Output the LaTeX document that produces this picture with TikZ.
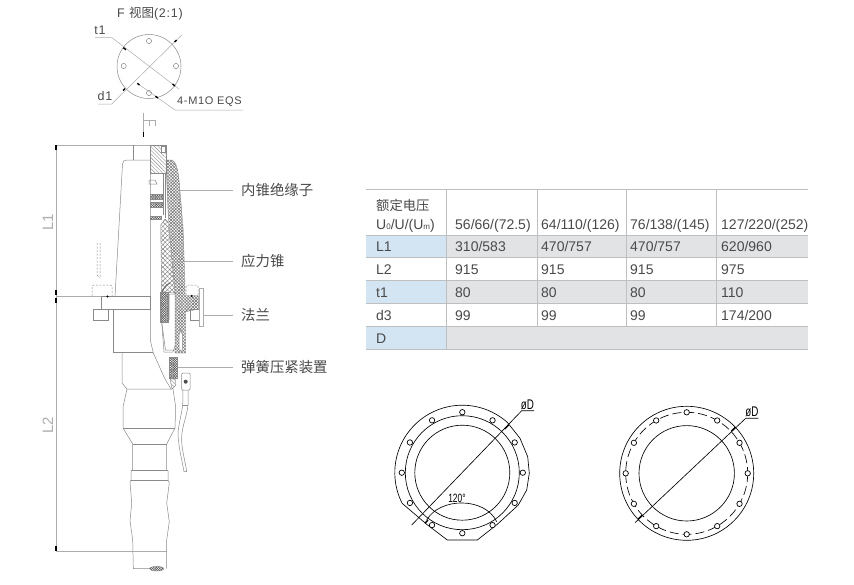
\documentclass[tikz,border=0pt]{standalone}
\usepackage{fontspec}
\usepackage{graphicx}
\setmainfont{Liberation Sans}
\newfontfamily\cjk{Noto Sans CJK SC}
\newfontfamily\spaced[LetterSpace=6]{Liberation Sans}
\usetikzlibrary{patterns,patterns.meta,arrows.meta}
\definecolor{txt}{HTML}{4A4A4A}
\definecolor{ln}{HTML}{8A8A8A}
\definecolor{blu}{HTML}{D3E4F3}
\definecolor{gry}{HTML}{E2E3E5}
\definecolor{rule}{HTML}{BDBFC1}
\tikzset{
  thin line/.style={draw=ln,line width=.5pt},
  leader/.style={draw=ln!70,line width=.5pt},
  dark line/.style={draw=black,line width=.65pt},
  hole/.style={draw=black,line width=.7pt,fill=white},
  mini hole/.style={draw=ln,line width=.5pt,fill=white},
  tick/.style={draw=black,line width=1.4pt},
  cross/.style={draw=ln,line width=.4pt,
    preaction={pattern={Lines[angle=45,distance=2.2pt,line width=.55pt]},pattern color=black!55},
    preaction={pattern={Lines[angle=-45,distance=2.2pt,line width=.55pt]},pattern color=black!55}},
  coarse/.style={draw=ln,line width=.4pt,
    preaction={fill=white},
    preaction={pattern={Lines[angle=45,distance=3.2pt,line width=.45pt]},pattern color=black!50},
    preaction={pattern={Lines[angle=-45,distance=3.2pt,line width=.45pt]},pattern color=black!50}},
  slant/.style={draw=ln,line width=.4pt,pattern={Lines[angle=-45,distance=2.6pt,line width=.4pt]},pattern color=black!45},
  dense/.style={draw=ln,line width=.4pt,
    preaction={fill=white},
    preaction={pattern={Lines[angle=45,distance=1.7pt,line width=.55pt]},pattern color=black!65},
    preaction={pattern={Lines[angle=-45,distance=1.7pt,line width=.55pt]},pattern color=black!65}},
  label/.style={font=\fontsize{14.4}{14.4}\selectfont\cjk,text=txt,anchor=west,inner sep=0pt},
  annot/.style={font=\fontsize{12.5}{12.5}\selectfont\spaced,text=txt,inner sep=0pt},
  cell/.style={font=\fontsize{14}{14}\selectfont,text=txt,anchor=base west,inner sep=0pt},
  rulev/.style={draw=rule,line width=1pt},
  fill blue/.style={fill=blu,draw=none},
  fill gray/.style={fill=gry,draw=none},
  dim/.style={font=\fontsize{15}{15}\selectfont,text=ln!70,inner sep=0pt,rotate=90},
}
\begin{document}
\begin{tikzpicture}[x=1pt,y=-1pt]
\useasboundingbox (0,0) rectangle (854,584);
\fill[white] (0,0) rectangle (854,584);
% ---------- F view
\node[annot,anchor=west] (ftitle) at (117,14) {F {\cjk 视图}(2:1)};
\coordinate (fc) at (149,66.5);
\draw[thin line] (fc) circle[radius=32];
\foreach \p in {(149,41),(123.7,66),(176,66),(149,93)} \draw[mini hole] \p circle[radius=2.6];
\node[annot] (t1lab) at (100,30) {t1};
\node[annot] (d1lab) at (105,96) {d1};
\node[annot,anchor=west,font=\fontsize{11}{11}\selectfont\spaced] (mlab) at (177,102) {4-M1O EQS};
\coordinate (t1a) at (95,37.5); \coordinate (t1b) at (111.7,37.5); \coordinate (t1c) at (179,89);
\coordinate (d1a) at (98,104); \coordinate (d1b) at (111.7,104); \coordinate (d1c) at (181.7,35);
\coordinate (ma) at (137.3,83.3); \coordinate (mb) at (175,110); \coordinate (mc) at (243,110);
\draw[leader] (t1a) -- (t1b) -- (t1c);
\draw[leader] (d1a) -- (d1b) -- (d1c);
\draw[leader] (ma) -- (mb) -- (mc);
\draw[tick] (123.3,47.7) -- (126,49.7);
\draw[tick] (172.5,84) -- (175,86);
\draw[tick] (123,90.7) -- (125,88.7);
\draw[tick] (176.7,40) -- (174.7,42);
\draw[tick] (155.5,96.2) -- (158,98);
\draw[tick] (137.3,83.3) -- (139.5,85);
% F mark
\coordinate (fa) at (143.5,113); \coordinate (fb) at (143.5,137);
\draw[leader] (fa) -- (fb);
\draw[tick,line width=1pt] (143.5,132) -- (143.5,137);
\draw[leader] (143.5,120) -- (155,120) (149,120) -- (149,126) (155,120) -- (155,126);
% ---------- dimensions
\coordinate (dtop) at (56,145); \coordinate (dmid) at (56,296.5); \coordinate (dbot) at (56,551);
\draw[leader] (dtop) -- (dbot);
\draw[leader] (dtop) -- (150.3,145);
\draw[leader] (dmid) -- (150.3,296.5);
\draw[leader] (dbot) -- (166.7,551);
\foreach \a/\b in {145/150,290/295,298/303,546/551} \draw[tick,line width=1.1pt] (56,\a) -- (56,\b);
\node[dim] (l1) at (48,222) {L1};
\node[dim] (l2) at (48,425) {L2};
% ---------- cable accessory: left half
\draw[thin line] (133.5,145) -- (133.5,160);
\draw[thin line] (150.3,160) -- (127,160) .. controls (124,160) and (123,161) .. (122.5,164) -- (115,296.5);
\draw[thin line] (150.3,145) -- (150.3,340) -- (153.3,353) -- (165,379) -- (171,389);
\draw[thin line] (101.7,296.5) rectangle (150.3,309);
\draw[thin line] (93,309) rectangle (108,320.7);
\draw[thin line,dash pattern=on 2pt off 1.5pt,rounded corners=2pt] (92,296) -- (92,285) -- (112,285) -- (112,296);
\draw[thin line,dash pattern=on 2pt off 1.5pt] (97,243) -- (97,275) (100,243) -- (100,277) (97,275) -- (100,278);
\fill[black] (107.5,296.5) circle[radius=1.1];
\draw[thin line] (113,309) -- (113,352.7) -- (153.3,352.7);
\draw[thin line] (122,352.7) -- (122,383) -- (127,389) -- (172,389);
% lower bulge and grip
\draw[thin line] (127,389) -- (123,407) -- (123,428) -- (132.7,444) -- (132.7,470) -- (131,471) -- (131,480)
  -- (130,482) -- (131.7,503) -- (130,521) -- (132.7,540) -- (133.3,568.5) -- (150,568.5);
\draw[thin line] (173,389) -- (175.7,407) -- (175,428) -- (166.7,444) -- (166.7,470) -- (168,471) -- (168,480)
  -- (169.3,483) -- (166.7,503) -- (169.3,521.7) -- (166.7,540) -- (166.7,568.5);
\draw[thin line] (123,428) -- (175,428) (132.7,444) -- (166.7,444) (131,470) -- (168,470) (131,480) -- (168,480);
\draw[dense] (156.7,568.7) ellipse[x radius=7,y radius=2.3];
% ---------- right section
\draw[slant] (150.3,145) -- (165.7,145) -- (165.7,173) -- (150.3,173) -- cycle;
\draw[thin line,fill=white] (161,146) rectangle (165.7,152);
% outer insulator and flange
\draw[cross] (166,160) -- (172,160) .. controls (176,161) and (178,170) .. (179,180) -- (183,227) -- (185,285)
  -- (185,295.7) -- (198.3,295.7) -- (198.3,309) -- (185.7,311.7) -- (185.7,353) -- (175,353) -- (175,295.7)
  -- (171,250) -- (168,210) -- cycle;
\draw[thin line,fill=white] (179,350) -- (179,335) -- (180.7,330) -- (182.5,335) -- (182.5,350) -- cycle;
% stress cone
\draw[coarse] (160.7,225) -- (165,219) -- (168,222) -- (171,250) -- (175,293) -- (161.7,292) -- cycle;
% spring and internal pieces
\draw[thin line,fill=white] (169,294) -- (175,294) -- (175,346) -- (173,352) -- (164,352) -- (161.7,322) -- (169,320) -- cycle;
\draw[dense] (160,292) -- (168,292) -- (168,322) -- (160,322) -- cycle;
\draw[thin line,line width=.9pt,draw=black!60] (162,292) .. controls (164,287) and (167,284) .. (170,283);
\draw[thin line] (161.7,322) -- (165.5,350) -- (175,350);
\draw[dense] (169,357) rectangle (177,378);
\draw[slant] (170,379) -- (175,379) -- (176,385) -- (172,389) -- cycle;
\draw[thin line,dash pattern=on 2pt off 1.5pt,rounded corners=2pt] (186,295) -- (186,285) -- (198,285) -- (198,295);
\draw[thin line] (190.7,309) rectangle (199,320);
\draw[thin line,draw=ln!70] (199,288) rectangle (203,326);
\fill[black] (191.7,296) circle[radius=1.1];
% internal bands
\draw[thin line] (149,184) -- (149,180) -- (155,180) -- (157,184) -- cycle;
\draw[dense] (150.3,194) rectangle (163,199);
\draw[dense] (150.3,202) rectangle (163,207);
\draw[dense] (150.3,216) rectangle (161,219);
\draw[thin line] (163,173) -- (163,215) (165.5,173) -- (165.5,218);
% lug and earth cable
\draw[thin line,fill=white,rounded corners=1pt] (181.7,373) rectangle (190,390);
\fill[black!70] (185.7,381.7) circle[radius=2];
\draw[thin line] (183,390) -- (182.7,405) .. controls (181,418) and (178,426) .. (178,435) .. controls (179,450) and (182,460) .. (184,471.7) -- (186.7,471.7)
  .. controls (185,460) and (181,447) .. (181.7,437) .. controls (182,426) and (187,416) .. (188,405) -- (188,390);
\draw[thin line] (182.7,405) -- (188,405);
% ---------- callouts
\node[label] (n1) at (241,190) {内锥绝缘子};
\node[label] (n2) at (241,261) {应力锥};
\node[label] (n3) at (241,315.5) {法兰};
\node[label] (n4) at (241,367) {弹簧压紧装置};
\coordinate (p1) at (180,190); \coordinate (p2) at (171.7,261); \coordinate (p3) at (203,315.5); \coordinate (p4) at (178,367);
\draw[leader] (p1) -- ([xshift=-8pt]n1.west);
\draw[leader] (p2) -- ([xshift=-8pt]n2.west);
\draw[leader] (p3) -- ([xshift=-8pt]n3.west);
\draw[leader] (p4) -- ([xshift=-8pt]n4.west);
% ---------- table
\path[fill blue] (366,235) rectangle (446.7,257.5);
\path[fill blue] (366,280) rectangle (446.7,303);
\path[fill blue] (366,326) rectangle (446.7,349);
\path[fill gray] (446.7,235) rectangle (808,257.5);
\path[fill gray] (446.7,280) rectangle (808,303);
\path[fill gray] (446.7,326) rectangle (808,349);
\foreach \y in {189.5,235,257.5,280,303,326,349} \draw[rulev] (366,\y) -- (808,\y);
\draw[rulev] (446.7,189.5) -- (446.7,349);
\foreach \x in {537,626.3,716.3} \draw[rulev] (\x,189.5) -- (\x,326);
\node[cell,font=\fontsize{13.3}{14}\selectfont\cjk] (h0) at (376,210) {额定电压};
\node[cell] (h1) at (376,229) {U{\fontsize{8}{8}\selectfont 0}/U/(U{\fontsize{8}{8}\selectfont m})};
\node[cell] (h2) at (455,229) {56/66/(72.5)};
\node[cell] (h3) at (541,229) {64/110/(126)};
\node[cell] (h4) at (630,229) {76/138/(145)};
\node[cell] (h5) at (721,229) {127/220/(252)};
\node[cell] (a0) at (376,251) {L1};
\node[cell] (a1) at (455,251) {310/583};
\node[cell] (a2) at (541,251) {470/757};
\node[cell] (a3) at (630,251) {470/757};
\node[cell] (a4) at (721,251) {620/960};
\node[cell] (b0) at (376,274) {L2};
\node[cell] (b1) at (455,274) {915};
\node[cell] (b2) at (541,274) {915};
\node[cell] (b3) at (630,274) {915};
\node[cell] (b4) at (721,274) {975};
\node[cell] (c0) at (376,297) {t1};
\node[cell] (c1) at (455,297) {80};
\node[cell] (c2) at (541,297) {80};
\node[cell] (c3) at (630,297) {80};
\node[cell] (c4) at (721,297) {110};
\node[cell] (d0) at (376,320) {d3};
\node[cell] (d1) at (455,320) {99};
\node[cell] (d2) at (541,320) {99};
\node[cell] (d3) at (630,320) {99};
\node[cell] (d4) at (721,320) {174/200};
\node[cell] (e0) at (376,343) {D};
% ---------- left flange
\def\cx{462.3}\def\cy{472.7}
\draw[dark line] (\cx,\cy) circle[radius=47.5];
\draw[dark line] (\cx,\cy) circle[radius=57];
\draw[dark line] plot[domain=-207:-48,samples=50,smooth] ({\cx+67.5*cos(\x)},{\cy+67.5*sin(\x)})
  -- (520,438.3) -- (527.7,456.7) -- (529.3,473.3) -- (526.7,490) -- (518.3,505) -- (497.3,524.3) -- (477.3,540) -- (447.3,540) -- (426.7,524.3)
  -- ({\cx+67.5*cos(-207)},{\cy+67.5*sin(-207)});
\foreach \a in {0,30,...,330} \draw[hole] ({\cx+60.5*cos(\a)},{\cy+60.5*sin(\a)}) circle[radius=2.7];
\coordinate (la) at (411.7,525); \coordinate (lb) at (521.7,410.7); \coordinate (lc) at (534,410.7);
\draw[dark line] (la) -- (lb) -- (lc);
\draw[tick] (504.7,429) -- (508.7,425);
\draw[tick] (425,523) -- (428,520);
\draw[dark line] (426.7,520) .. controls (440,497) and (485,497) .. (496.7,521.7);
\node[annot,text=black,font=\fontsize{12}{12}\selectfont] (ang) at (457,498) {\scalebox{.7}[1]{120°}};
\node[annot,text=black,font=\fontsize{14}{14}\selectfont] (dl) at (527.5,405) {\scalebox{.7}[1]{øD}};
% ---------- right flange
\def\ex{686.7}\def\ey{473.3}
\draw[dark line] (\ex,\ey) circle[radius=47.7];
\draw[dark line] (\ex,\ey) circle[radius=67];
\draw[dark line,dash pattern=on 9pt off 4pt] (\ex,\ey) circle[radius=61];
\foreach \a in {0,30,...,330} \draw[hole] ({\ex+61*cos(\a)},{\ey+61*sin(\a)}) circle[radius=2.7];
\coordinate (ra) at (635,522.7); \coordinate (rb) at (745.7,418.3); \coordinate (rc) at (758.3,418.3);
\draw[dark line] (ra) -- (rb) -- (rc);
\draw[tick] (731.3,431.3) -- (735.3,427.3);
\draw[tick] (638,519.3) -- (642,515.3);
\node[annot,text=black,font=\fontsize{14}{14}\selectfont] (dr) at (752,412) {\scalebox{.7}[1]{øD}};
\end{tikzpicture}
\end{document}
